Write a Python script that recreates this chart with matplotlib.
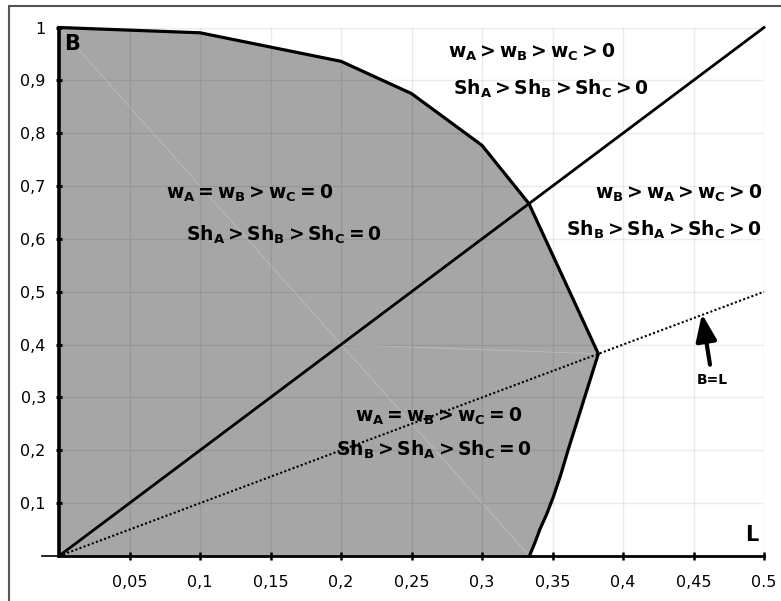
import matplotlib
matplotlib.use("Agg")
import matplotlib.pyplot as plt
from matplotlib.patches import Rectangle

plt.rcParams['font.family'] = ['DejaVu Sans']
plt.rcParams['mathtext.fontset'] = 'dejavusans'

# boundary of the shaded region (L, B)
bound_L = [0, 0.1, 0.2, 0.25, 0.3, 0.3333, 0.3825, 0.361, 0.356, 0.3506, 0.346, 0.341, 0.3375, 0.3336]
bound_B = [1, 0.99, 0.936, 0.875, 0.777, 0.6667, 0.3826, 0.2, 0.155, 0.112, 0.08, 0.05, 0.025, 0]

# straight lines B = 2L and B = L
line2_L = [0, 0.5]
line2_B = [0, 1.0]
diag_L = [0, 0.5]
diag_B = [0, 0.5]

xticks = [0.05, 0.1, 0.15, 0.2, 0.25, 0.3, 0.35, 0.4, 0.45, 0.5]
xlabels = ['0,05', '0,1', '0,15', '0,2', '0,25', '0,3', '0,35', '0,4', '0,45', '0.5']
yticks = [0.1, 0.2, 0.3, 0.4, 0.5, 0.6, 0.7, 0.8, 0.9, 1.0]
ylabels = ['0,1', '0,2', '0,3', '0,4', '0,5', '0,6', '0,7', '0,8', '0,9', '1']

fig = plt.figure(figsize=(7.81, 6.01), dpi=100)
ax = fig.add_axes([59/781, 1 - 556/601, 705/781, 528.5/601])

# shaded region
poly_L = [0] + bound_L
poly_B = [0] + bound_B
ax.fill(poly_L, poly_B, color='#a6a6a6', lw=0, zorder=1)
# faint seams inside the shaded area
ax.plot([0, 0.3336], [1, 0], color='white', lw=0.5, alpha=0.3, zorder=1.2)
ax.plot([0.2, 0.3825], [0.4, 0.3826], color='white', lw=0.5, alpha=0.3, zorder=1.2)

ax.plot(bound_L, bound_B, color='black', lw=2.3, zorder=3, clip_on=False,
        solid_joinstyle='miter')
ax.plot(line2_L, line2_B, color='black', lw=2.0, zorder=3, clip_on=False)
ax.plot(diag_L, diag_B, color='black', lw=1.5, ls=(0, (1, 1.1)), zorder=3, clip_on=False)

ax.set_xlim(0, 0.5)
ax.set_ylim(0, 1)
ax.set_xticks(xticks)
ax.set_xticklabels(xlabels)
ax.set_yticks(yticks)
ax.set_yticklabels(ylabels)
ax.grid(True, color='black', alpha=0.08, lw=1)
ax.tick_params(axis='x', direction='inout', length=6, width=1.8, pad=11, labelsize=11.5)
ax.tick_params(axis='y', direction='inout', length=5, width=2.2, pad=7, labelsize=11.5)

for s in ['top', 'right']:
    ax.spines[s].set_visible(False)
ax.spines['left'].set_linewidth(2.6)
ax.spines['bottom'].set_linewidth(2.0)
ax.plot([-0.012, 0], [0, 0], color='black', lw=1.2, clip_on=False, zorder=3)

fs = 13.5
ax.text(0.009, 0.968, 'B', fontsize=15, fontweight='bold', ha='center', va='center')
ax.text(0.491, 0.04, 'L', fontsize=15, fontweight='bold', ha='center', va='center')

ax.text(0.335, 0.953, r'$\mathbf{w_A > w_B > w_C > 0}$', fontsize=fs, ha='center', va='center')
ax.text(0.349, 0.883, r'$\mathbf{Sh_A > Sh_B > Sh_C > 0}$', fontsize=fs, ha='center', va='center')
ax.text(0.4985, 0.687, r'$\mathbf{w_B > w_A > w_C > 0}$', fontsize=fs, ha='right', va='center')
ax.text(0.4985, 0.617, r'$\mathbf{Sh_B > Sh_A > Sh_C > 0}$', fontsize=fs, ha='right', va='center')
ax.text(0.1355, 0.687, r'$\mathbf{w_A = w_B > w_C = 0}$', fontsize=fs, ha='center', va='center')
ax.text(0.1596, 0.608, r'$\mathbf{Sh_A > Sh_B > Sh_C = 0}$', fontsize=fs, ha='center', va='center')
ax.text(0.269, 0.264, r'$\mathbf{w_A = w_B > w_C = 0}$', fontsize=fs, ha='center', va='center', zorder=4)
ax.text(0.266, 0.200, r'$\mathbf{Sh_B > Sh_A > Sh_C = 0}$', fontsize=fs, ha='center', va='center', zorder=4)

ax.annotate('', xy=(0.456, 0.458), xytext=(0.4617, 0.362),
            arrowprops=dict(arrowstyle='-|>,head_length=0.9,head_width=0.35', color='black',
                            lw=3, mutation_scale=18, shrinkA=0, shrinkB=0))
ax.text(0.463, 0.333, 'B=L', fontsize=10, fontweight='bold', ha='center', va='center')

# figure frame
fig.patches.append(Rectangle((9/781, -0.1), 1.1, 1.1 - 5.7/601, transform=fig.transFigure,
                             fill=False, edgecolor='#555555', lw=1.5))

fig.savefig('out.png', dpi=100)
